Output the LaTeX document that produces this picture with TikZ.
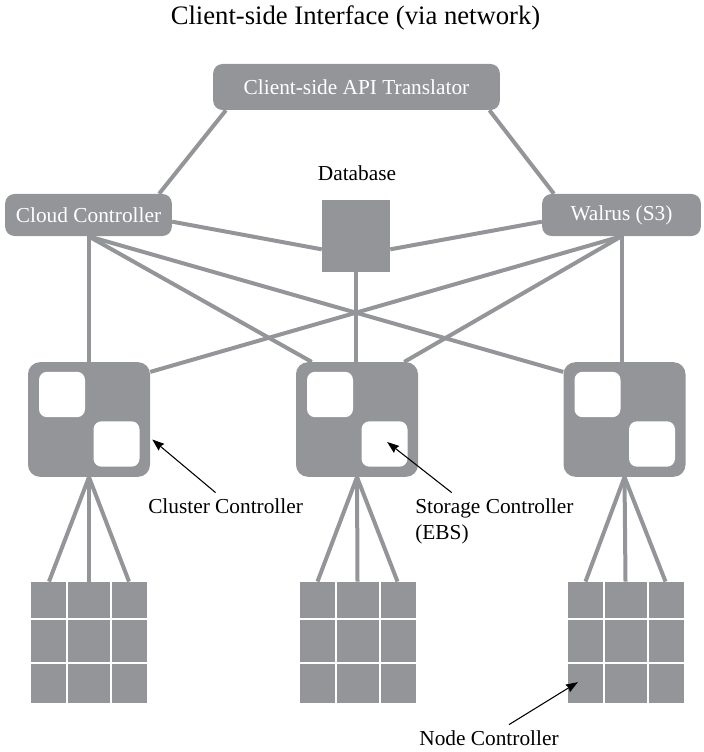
\documentclass[tikz,border=0pt]{standalone}
\usepackage{fontspec}
\setmainfont{Liberation Serif}
\usepackage{tikz}
\usetikzlibrary{arrows.meta,positioning,backgrounds,calc}
\definecolor{eugray}{RGB}{147,149,152}
\tikzset{
  box/.style ={fill=eugray, rounded corners=7pt, text=white, font=\fontsize{16}{19.5}\selectfont, inner sep=0pt},
  clus/.style={fill=eugray, rounded corners=9pt, minimum width=91.5pt, minimum height=86pt},
  slot/.style={fill=white, rounded corners=6pt, minimum width=34.5pt, minimum height=34pt},
  rack/.style={fill=eugray, minimum width=87pt, minimum height=91pt},
  lbl/.style ={font=\fontsize{16}{19.5}\selectfont, align=left, inner sep=0pt},
  link/.style={draw=eugray, line width=3pt},
  arr/.style ={-{Stealth[length=9pt, width=6.5pt, inset=1pt]}, line width=0.8pt},
}
\begin{document}
\begin{tikzpicture}[x=0.75pt,y=-0.75pt]
  \useasboundingbox (0,0) rectangle (703,752);
  \node[lbl, font=\fontsize{20}{24}\selectfont, anchor=base] (iface) at (355.5,25) {Client-side Interface (via network)};
  \node[box, minimum width=215pt, minimum height=34.5pt] (api) at (356.5,87) {Client-side API Translator};
  \node[box, minimum width=125pt, minimum height=31.5pt] (cloud) at (88.5,215) {Cloud Controller};
  \node[box, minimum width=119pt, minimum height=31.5pt] (walrus) at (621.5,215) {Walrus (S3)};
  \node[fill=eugray, minimum width=51pt, minimum height=54pt] (db) at (356,236) {};
  \node[lbl, anchor=base] (dblab) at (357,181) {Database};
  % clusters and node racks
  \foreach \i/\cx/\gx in {1/89/89, 2/357/357.5, 3/624.5/625.5} {
    \node[clus] (cl\i) at (\cx,419.5) {};
    \node[slot] (cl\i a) at (\cx-27,394.5) {};
    \node[slot] (cl\i b) at (\cx+27.5,444) {};
    \node[rack] (g\i) at (\gx,642.5) {};
    \foreach \f in {0.315,0.69}
      \draw[white, line width=1.5pt] ($(g\i.north west)!\f!(g\i.north east)$) -- ($(g\i.south west)!\f!(g\i.south east)$);
    \foreach \f in {0.31,0.67}
      \draw[white, line width=1.5pt] ($(g\i.north west)!\f!(g\i.south west)$) -- ($(g\i.north east)!\f!(g\i.south east)$);
    \begin{scope}[on background layer]
      \draw[link] (cl\i.south) -- ([xshift=-30pt]g\i.north);
      \draw[link] (cl\i.south) -- (g\i.north);
      \draw[link] (cl\i.south) -- ([xshift=30pt]g\i.north);
    \end{scope}
  }
  \begin{scope}[on background layer]
    \draw[link] ([xshift=9.75pt]api.south west) -- ([xshift=-9.75pt]cloud.north east);
    \draw[link] ([xshift=-8pt]api.south east) -- ([xshift=9pt]walrus.north west);
    \draw[link] ([yshift=-5pt]cloud.east) -- ([yshift=-10pt]db.west);
    \draw[link] ([yshift=-5pt]walrus.west) -- ([yshift=-10pt]db.east);
    \draw[link] (db.south) -- (db.south |- cl2.north);
    \draw[link] (cloud.south) -- (cloud.south |- cl1.north);
    \draw[link] (cloud.south) -- ([xshift=12pt]cl2.north west);
    \draw[link] (cloud.south) -- ([yshift=-7.5pt]cl3.north west);
    \draw[link] (walrus.south) -- (walrus.south |- cl3.north);
    \draw[link] (walrus.south) -- ([xshift=-10.5pt]cl2.north east);
    \draw[link] (walrus.south) -- ([yshift=-7.5pt]cl1.north east);
  \end{scope}
  % callouts
  \node[lbl, anchor=base west] (cclab) at (148,513) {Cluster Controller};
  \node[lbl, anchor=base west] (sclab) at (415,539) {Storage Controller\\(EBS)};
  \node[lbl, anchor=base] (nclab) at (489,745) {Node Controller};
  \draw[arr] ([xshift=-7.5pt,yshift=4pt]cclab.north) -- ([xshift=1.5pt,yshift=-15pt]cl1.east);
  \draw[arr] ([xshift=-32pt,yshift=4pt]sclab.north) -- ([xshift=2pt,yshift=1.5pt]cl2b.center);
  \draw[arr] ([xshift=15pt,yshift=4pt]nclab.north) -- ([xshift=8pt,yshift=16pt]g3.south west);
\end{tikzpicture}
\end{document}
